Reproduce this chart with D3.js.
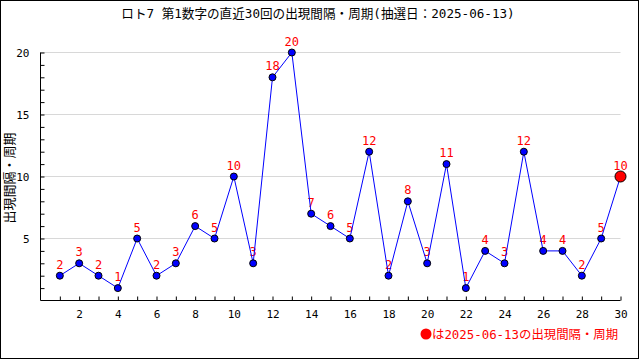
<!DOCTYPE html>
<html><head><meta charset="utf-8">
<script src="https://cdn.jsdelivr.net/npm/d3@7"></script>
<style>body{margin:0;background:#fff}svg{display:block}</style>
</head><body>
<script>
const draws = d3.range(1, 31);
const intervals = [2,3,2,1,5,2,3,6,5,10,3,18,20,7,6,5,12,2,8,3,11,1,4,3,12,4,4,2,5,10];
const xTickLabels = [2,4,6,8,10,12,14,16,18,20,22,24,26,28,30];
const yTickLabels = [5,10,15,20];
const titleText = "ロト7 第1数字の直近30回の出現間隔・周期(抽選日：2025-06-13)";
const yTitle = "出現間隔・周期";
const legendText = "は2025-06-13の出現間隔・周期";

const W = 640, H = 360;
const font = "'DejaVu Sans Mono','Noto Sans CJK JP',monospace";
const svg = d3.select("body").append("svg").attr("width", W).attr("height", H);
svg.append("rect").attr("x",0).attr("y",0).attr("width",W).attr("height",H).attr("fill","#fff");
svg.append("rect").attr("x",0.5).attr("y",0.5).attr("width",638).attr("height",358)
  .attr("fill","none").attr("stroke","#000").attr("stroke-width",1);

const x = d3.scaleLinear().domain([0,30]).range([40.5,620.5]);
const y = d3.scaleLinear().domain([0,20]).range([300.5,52.5]);

// grid
svg.append("g").selectAll("line").data(yTickLabels).join("line")
  .attr("x1",x(0)).attr("x2",x(30)).attr("y1",d=>y(d)).attr("y2",d=>y(d))
  .attr("stroke","#d8d8d8").attr("stroke-width",1);

// y axis
const yAxis = d3.axisLeft(y).tickValues(d3.range(1,21)).tickSizeInner(-4).tickSizeOuter(0)
  .tickFormat(d => yTickLabels.includes(d) ? d : "").tickPadding(11);
const gy = svg.append("g").attr("transform",`translate(${x(0)},0)`).call(yAxis);
gy.select(".domain").attr("d",`M0,${y(20)}V${y(0)}`);
// x axis
const xAxis = d3.axisBottom(x).tickValues(d3.range(1,31)).tickSizeInner(-4).tickSizeOuter(0)
  .tickFormat(d => xTickLabels.includes(d) ? d : "").tickPadding(10);
const gx = svg.append("g").attr("transform",`translate(0,${y(0)})`).call(xAxis);
gx.select(".domain").attr("d",`M${x(0)},0H${x(30)}`);
[gx, gy].forEach(g => {
  g.selectAll("text").attr("font-family",font).attr("font-size",11).attr("fill","#000");
  g.selectAll("line, path").attr("stroke","#000");
});

// labels (under line)
svg.append("g").selectAll("text").data(intervals).join("text")
  .attr("x",(d,i)=>x(draws[i])).attr("y",d=>y(d)-7)
  .attr("text-anchor","middle").attr("font-family",font).attr("font-size",12)
  .attr("fill","#ff0000").text(d=>d);

// line
const line = d3.line().x((d,i)=>x(draws[i])).y(d=>y(d));
svg.append("path").datum(intervals).attr("d",line).attr("fill","none")
  .attr("stroke","#0000ff").attr("stroke-width",1);

// points
svg.append("g").selectAll("circle").data(intervals).join("circle")
  .attr("cx",(d,i)=>x(draws[i])).attr("cy",d=>y(d))
  .attr("r",(d,i)=>i===intervals.length-1?5.5:3.5)
  .attr("fill",(d,i)=>i===intervals.length-1?"#ff0000":"#0000ff")
  .attr("stroke","#000").attr("stroke-width",1);

// title
svg.append("text").attr("x",318).attr("y",18).attr("text-anchor","middle")
  .attr("font-family",font).attr("font-size",12.6).attr("fill","#000").text(titleText);

// y title
svg.append("text").attr("transform","translate(14,178) rotate(-90)").attr("text-anchor","middle")
  .attr("font-family",font).attr("font-size",13).attr("fill","#000").text(yTitle);

// legend
svg.append("circle").attr("cx",426).attr("cy",334).attr("r",5.5).attr("fill","#ff0000");
svg.append("text").attr("x",432).attr("y",339).attr("font-family",font).attr("font-size",12.4)
  .attr("fill","#ff0000").text(legendText);
</script>
</body></html>
